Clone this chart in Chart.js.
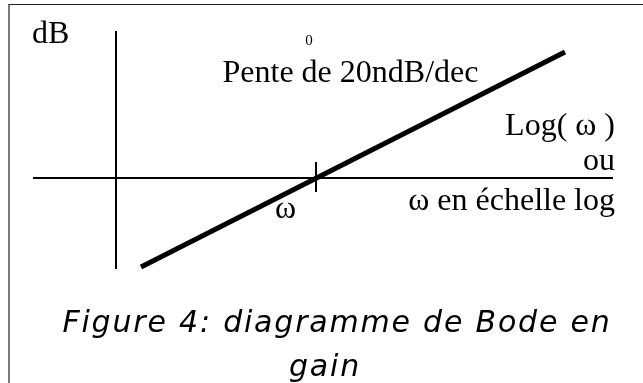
<!DOCTYPE html>
<html>
<head>
<meta charset="utf-8">
<script src="https://cdn.jsdelivr.net/npm/chart.js@4/dist/chart.umd.min.js"></script>
<style>
  html, body { margin: 0; padding: 0; background: #fff; }
  #wrap { position: relative; width: 643px; height: 383px; overflow: hidden; }
  #frame {
    position: absolute; left: 8px; top: 4px; right: -10px; bottom: -10px;
    border-top: 1px solid #222; border-left: 2px solid #7a7a7a;
    pointer-events: none;
  }
</style>
</head>
<body>
<div id="wrap">
  <canvas id="chart" width="643" height="383"></canvas>
  <div id="frame"></div>
</div>
<script>
// x in decades around w0 (log scale), y in dB
const axisX = [-2.83, 2.97];       // horizontal axis ends (decades)
const axisY = [58.8, -36.4];       // vertical axis ends (dB)
const axisYAt = -2;                // vertical axis position (decades)
const tickY = [6.4, -5.6];         // tick at w0
const slopeDec = [-1.75, 2.49];    // asymptote ends (decades)
const slopeDb = [-35.6, 50.4];     // asymptote ends (dB)

const labels = [
  { text: 'dB', x: -2.84, y: 54, align: 'left', size: 32 },
  { text: '0', x: -0.07, y: 53.2, align: 'center', size: 15 },
  { text: 'Pente de 20ndB/dec', x: -0.935, y: 38.4, align: 'left', size: 32 },
  { text: 'Log( \u03c9 )', x: 2.99, y: 17.2, align: 'right', size: 32 },
  { text: 'ou', x: 2.99, y: 3.2, align: 'right', size: 32 },
  { text: '\u03c9 en \u00e9chelle log', x: 2.99, y: -12.8, align: 'right', size: 32 },
  { text: '\u03c9', x: -0.41, y: -16, align: 'left', size: 32 }
];
const caption = ['Figure 4: diagramme de Bode en', 'gain'];

const textPlugin = {
  id: 'texts',
  afterDatasetsDraw(chart) {
    const ctx = chart.ctx;
    const sx = chart.scales.x, sy = chart.scales.y;
    ctx.save();
    ctx.fillStyle = '#000';
    ctx.textBaseline = 'alphabetic';
    labels.forEach(l => {
      ctx.font = l.size + 'px "Liberation Serif", "Times New Roman", serif';
      ctx.textAlign = l.align;
      ctx.fillText(l.text, sx.getPixelForValue(l.x), sy.getPixelForValue(l.y));
    });
    // caption
    ctx.font = 'italic 30px "DejaVu Sans", sans-serif';
    ctx.letterSpacing = '1.8px';
    ctx.textAlign = 'center';
    ctx.fillText(caption[0], 337, 332);
    ctx.fillText(caption[1], 325, 376);
    ctx.restore();
  }
};

function seg(xs, ys, width) {
  return {
    data: [{ x: xs[0], y: ys[0] }, { x: xs[1], y: ys[1] }],
    showLine: true,
    borderColor: '#000',
    borderWidth: width,
    borderCapStyle: 'butt',
    pointRadius: 0,
    fill: false
  };
}

new Chart(document.getElementById('chart'), {
  type: 'scatter',
  data: {
    datasets: [
      seg(axisX, [0, 0], 2),
      seg([axisYAt, axisYAt], axisY, 2),
      seg([0, 0], tickY, 2),
      seg(slopeDec, slopeDb, 5)
    ]
  },
  options: {
    responsive: false,
    animation: false,
    layout: { padding: 0 },
    plugins: { legend: { display: false }, tooltip: { enabled: false }, title: { display: false } },
    scales: {
      x: { type: 'linear', min: -3.16, max: 3.27, display: false },
      y: { type: 'linear', min: -82, max: 71.2, display: false }
    }
  },
  plugins: [textPlugin]
});
</script>
</body>
</html>
